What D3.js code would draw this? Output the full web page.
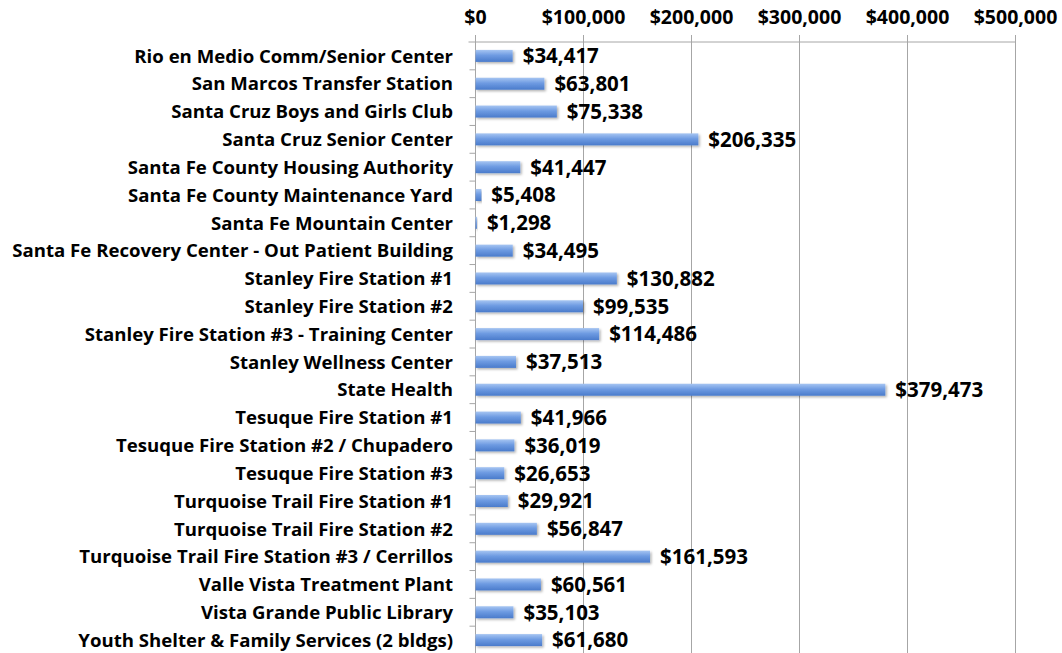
<!DOCTYPE html>
<html>
<head>
<meta charset="utf-8">
<script src="https://cdn.jsdelivr.net/npm/d3@7"></script>
<style>
  html, body { margin: 0; padding: 0; background: #fff; overflow: hidden; }
  svg { display: block; }
  text { font-family: "Open Sans", sans-serif; font-weight: bold; fill: #000; }
</style>
</head>
<body>
<div id="plot"></div>
<script>
// Data
const categories = [
  "Rio en Medio Comm/Senior Center",
  "San Marcos Transfer Station",
  "Santa Cruz Boys and Girls Club",
  "Santa Cruz Senior Center",
  "Santa Fe County Housing Authority",
  "Santa Fe County Maintenance Yard",
  "Santa Fe Mountain Center",
  "Santa Fe Recovery Center - Out Patient Building",
  "Stanley Fire Station #1",
  "Stanley Fire Station #2",
  "Stanley Fire Station #3 - Training Center",
  "Stanley Wellness Center",
  "State Health",
  "Tesuque Fire Station #1",
  "Tesuque Fire Station #2 / Chupadero",
  "Tesuque Fire Station #3",
  "Turquoise Trail Fire Station #1",
  "Turquoise Trail Fire Station #2",
  "Turquoise Trail Fire Station #3 / Cerrillos",
  "Valle Vista Treatment Plant",
  "Vista Grande Public Library",
  "Youth Shelter & Family Services (2 bldgs)"
];
const values = [34417, 63801, 75338, 206335, 41447, 5408, 1298, 34495, 130882, 99535,
  114486, 37513, 379473, 41966, 36019, 26653, 29921, 56847, 161593, 60561, 35103, 61680];
const tickValues = [0, 100000, 200000, 300000, 400000, 500000];

// Parameters
const svg_w = 1062;
const svg_h = 653;
const margin = {top: 42, right: 46.5, bottom: -1, left: 475.5};
const innerWidth = svg_w - margin.left - margin.right;
const innerHeight = svg_h - margin.top - margin.bottom;
const labelWidth = 441;   // width of the longest category label in the reference

const svg = d3.select("div#plot")
  .append("svg")
    .attr("width", svg_w)
    .attr("height", svg_h);

const defs = svg.append("defs");
const grad = defs.append("linearGradient")
    .attr("id", "barGrad")
    .attr("x1", 0).attr("y1", 0).attr("x2", 0).attr("y2", 1);
grad.append("stop").attr("offset", "0%").attr("stop-color", "#a6c5f2");
grad.append("stop").attr("offset", "45%").attr("stop-color", "#6e9be2");
grad.append("stop").attr("offset", "100%").attr("stop-color", "#4a7bcb");

const shadow = defs.append("filter").attr("id", "shadow")
    .attr("x", "-5%").attr("y", "-30%").attr("width", "115%").attr("height", "180%");
shadow.append("feDropShadow")
    .attr("dx", 1.5).attr("dy", 1.5).attr("stdDeviation", 1)
    .attr("flood-color", "#000").attr("flood-opacity", 0.3);

const xScale = d3.scaleLinear().domain([0, 500000]).range([0, innerWidth]);
const yScale = d3.scaleBand().domain(categories).range([0, innerHeight]);

const g = svg.append("g")
    .attr("transform", `translate(${margin.left}, ${margin.top})`);

// Gridlines
g.append("g")
  .selectAll("line")
  .data(tickValues)
  .join("line")
    .attr("x1", d => xScale(d))
    .attr("x2", d => xScale(d))
    .attr("y1", -7)
    .attr("y2", innerHeight)
    .attr("stroke", "#a6a6a6")
    .attr("stroke-width", 1);

// Top axis line
g.append("line")
    .attr("x1", -7)
    .attr("x2", xScale(500000))
    .attr("y1", 0)
    .attr("y2", 0)
    .attr("stroke", "#a6a6a6");

// Left axis ticks at band boundaries
g.append("g")
  .selectAll("line")
  .data(categories.slice(1))
  .join("line")
    .attr("x1", -6)
    .attr("x2", 0)
    .attr("y1", d => yScale(d))
    .attr("y2", d => yScale(d))
    .attr("stroke", "#a6a6a6");

// Top tick labels
const fmt = d3.format("$,");
g.append("g")
  .selectAll("text")
  .data(tickValues)
  .join("text")
    .attr("x", d => xScale(d))
    .attr("y", -18)
    .attr("text-anchor", "middle")
    .style("font-size", "19.5px")
    .text(d => fmt(d));

// Bars
const barH = 12;
g.append("g")
  .selectAll("rect")
  .data(values)
  .join("rect")
    .attr("x", xScale(0))
    .attr("y", (d, i) => yScale(categories[i]) + yScale.bandwidth() / 2 - barH / 2)
    .attr("width", d => xScale(d))
    .attr("height", barH)
    .attr("fill", "url(#barGrad)")
    .attr("filter", "url(#shadow)");

// Value labels
g.append("g")
  .selectAll("text")
  .data(values)
  .join("text")
    .attr("x", d => xScale(d) + 10)
    .attr("y", (d, i) => yScale(categories[i]) + yScale.bandwidth() / 2)
    .attr("dy", "0.36em")
    .style("font-size", "20.5px")
    .text(d => fmt(d));

// Category labels
const catLabels = g.append("g")
  .selectAll("text")
  .data(categories)
  .join("text")
    .attr("x", -22.5)
    .attr("y", d => yScale(d) + yScale.bandwidth() / 2)
    .attr("dy", "0.36em")
    .attr("text-anchor", "end")
    .style("font-size", "16px")
    .text(d => d);

// fit font size so the longest label is as wide as in the reference
const maxW = d3.max(catLabels.nodes(), n => n.getComputedTextLength());
catLabels.style("font-size", (16 * labelWidth / maxW) + "px");
</script>
</body>
</html>
